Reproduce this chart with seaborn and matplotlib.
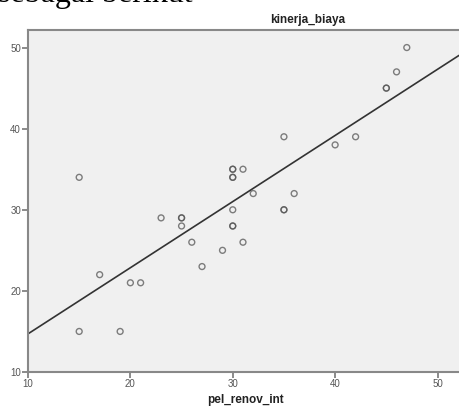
import numpy as np
import pandas as pd
import matplotlib
matplotlib.use("Agg")
import matplotlib.pyplot as plt
import seaborn as sns

pel_renov_int = [15, 15, 17, 19, 20, 21, 23, 25, 25, 25, 26, 27, 29,
                 30, 30, 30, 30, 30, 30, 30, 31, 31, 32, 35, 35, 35, 36,
                 40, 42, 45, 45, 46, 47]
kinerja_biaya = [34, 15, 22, 15, 21, 21, 29, 29, 29, 28, 26, 23, 25,
                 35, 35, 34, 34, 30, 28, 28, 35, 26, 32, 39, 30, 30, 32,
                 38, 39, 45, 45, 47, 50]
x_ticks = [10, 20, 30, 40, 50]
y_ticks = [10, 20, 30, 40, 50]

df = pd.DataFrame({"pel_renov_int": pel_renov_int, "kinerja_biaya": kinerja_biaya})

sns.set_style("white")
plt.rcParams["font.family"] = ["Liberation Sans", "DejaVu Sans"]

W, H = 459, 408
fig = plt.figure(figsize=(W / 100, H / 100), dpi=100)
fig.patch.set_facecolor("white")
ax = fig.add_axes([28 / W, (H - 372) / H, (W - 28) / W, (372 - 29.7) / H])
ax.set_facecolor("#f0f0f0")
ax.set_xlim(10, 52.1)
ax.set_ylim(10, 52.2)

sns.regplot(data=df, x="pel_renov_int", y="kinerja_biaya", ax=ax, ci=None,
            truncate=False, marker="o",
            scatter_kws={"s": 18, "facecolors": "none", "edgecolors": "#555555",
                         "linewidths": 1.0, "alpha": 0.75},
            line_kws={"color": "#333333", "linewidth": 1.2})

ax.set_xlim(10, 52.1)
ax.set_ylim(10, 52.2)
ax.set_xticks(x_ticks)
ax.set_yticks(y_ticks)
ax.tick_params(axis="both", which="major", bottom=True, left=True,
               direction="out", length=4, width=1.2, color="#777777",
               labelsize=7, labelcolor="#555555", pad=1)
for s in ["left", "bottom", "top"]:
    ax.spines[s].set_color("#888888")
    ax.spines[s].set_linewidth(1.5)
ax.spines["right"].set_visible(False)
ax.set_xlabel("")
ax.set_ylabel("")

fig.text(245 / W, 1 - 403 / H, "pel_renov_int", ha="center", va="baseline",
         fontsize=8.5, fontweight="bold", color="#222222")
fig.text(308 / W, 1 - 23 / H, "kinerja_biaya", ha="center", va="baseline",
         fontsize=8.5, fontweight="bold", color="#222222")
fig.text(-2 / W, 1 - 2 / H, "sebagai berikut", ha="left", va="baseline",
         fontsize=23, family=["Liberation Serif", "DejaVu Serif"], color="black")

fig.savefig("out.png", dpi=100)
